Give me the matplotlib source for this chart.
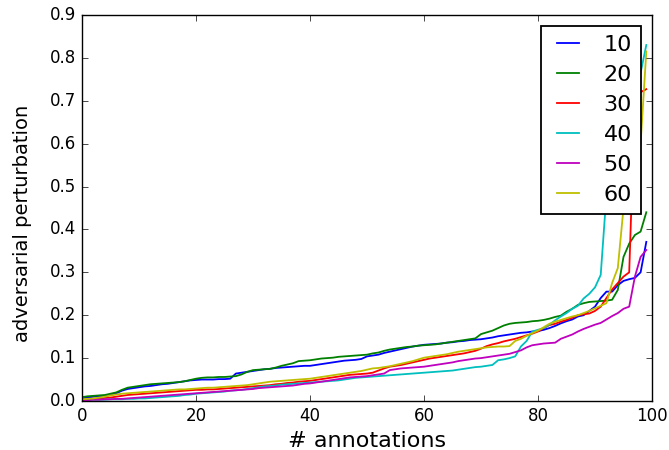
import numpy as np
import matplotlib
matplotlib.use('Agg')
import matplotlib.pyplot as plt

# valores (perturbacion ordenada por anotacion)
etiquetas = ['10', '20', '30', '40', '50', '60']
colores = ['b', 'g', 'r', 'c', 'm', 'y']

s10 = [0.006, 0.008, 0.010, 0.011, 0.012, 0.014, 0.018, 0.024, 0.028, 0.030,
       0.032, 0.034, 0.035, 0.037, 0.039, 0.040, 0.042, 0.044, 0.046, 0.048,
       0.049, 0.050, 0.050, 0.050, 0.051, 0.051, 0.052, 0.064, 0.066, 0.068,
       0.070, 0.072, 0.074, 0.075, 0.077, 0.078, 0.079, 0.080, 0.081, 0.082,
       0.082, 0.084, 0.086, 0.088, 0.090, 0.092, 0.094, 0.095, 0.096, 0.098,
       0.104, 0.106, 0.108, 0.112, 0.115, 0.118, 0.121, 0.124, 0.127, 0.129,
       0.131, 0.132, 0.133, 0.134, 0.136, 0.137, 0.139, 0.140, 0.142, 0.143,
       0.144, 0.146, 0.148, 0.151, 0.153, 0.155, 0.157, 0.159, 0.160, 0.162,
       0.163, 0.166, 0.170, 0.175, 0.181, 0.186, 0.190, 0.197, 0.200, 0.210,
       0.220, 0.240, 0.255, 0.255, 0.270, 0.280, 0.284, 0.287, 0.300, 0.371]

s20 = [0.009, 0.011, 0.012, 0.013, 0.014, 0.017, 0.020, 0.026, 0.031, 0.033,
       0.035, 0.037, 0.039, 0.040, 0.041, 0.042, 0.043, 0.044, 0.046, 0.049,
       0.052, 0.054, 0.055, 0.055, 0.056, 0.056, 0.057, 0.058, 0.062, 0.068,
       0.072, 0.073, 0.074, 0.075, 0.078, 0.082, 0.085, 0.088, 0.093, 0.094,
       0.095, 0.097, 0.099, 0.100, 0.101, 0.103, 0.104, 0.105, 0.106, 0.107,
       0.108, 0.111, 0.113, 0.117, 0.120, 0.122, 0.124, 0.126, 0.127, 0.129,
       0.130, 0.131, 0.132, 0.134, 0.136, 0.138, 0.140, 0.142, 0.144, 0.146,
       0.156, 0.160, 0.164, 0.170, 0.176, 0.180, 0.182, 0.183, 0.184, 0.186,
       0.187, 0.189, 0.192, 0.196, 0.199, 0.208, 0.215, 0.224, 0.228, 0.231,
       0.232, 0.233, 0.234, 0.236, 0.259, 0.336, 0.367, 0.387, 0.395, 0.440]

s30 = [0.003, 0.004, 0.005, 0.006, 0.007, 0.008, 0.010, 0.012, 0.014, 0.015,
       0.016, 0.017, 0.018, 0.019, 0.020, 0.021, 0.022, 0.023, 0.024, 0.025,
       0.026, 0.026, 0.027, 0.027, 0.028, 0.029, 0.030, 0.031, 0.032, 0.033,
       0.034, 0.035, 0.036, 0.037, 0.039, 0.040, 0.042, 0.043, 0.045, 0.046,
       0.047, 0.049, 0.051, 0.053, 0.055, 0.057, 0.059, 0.061, 0.062, 0.063,
       0.064, 0.066, 0.071, 0.076, 0.080, 0.082, 0.084, 0.087, 0.090, 0.093,
       0.096, 0.099, 0.101, 0.103, 0.105, 0.107, 0.109, 0.111, 0.114, 0.117,
       0.122, 0.128, 0.132, 0.135, 0.139, 0.142, 0.145, 0.149, 0.153, 0.157,
       0.162, 0.170, 0.177, 0.180, 0.185, 0.189, 0.194, 0.200, 0.202, 0.204,
       0.210, 0.220, 0.240, 0.260, 0.275, 0.290, 0.300, 0.705, 0.720, 0.727]

s40 = [0.002, 0.002, 0.003, 0.003, 0.003, 0.004, 0.004, 0.004, 0.005, 0.005,
       0.006, 0.006, 0.007, 0.008, 0.009, 0.010, 0.011, 0.012, 0.014, 0.015,
       0.017, 0.018, 0.019, 0.020, 0.021, 0.022, 0.024, 0.025, 0.026, 0.028,
       0.030, 0.032, 0.034, 0.035, 0.036, 0.038, 0.039, 0.040, 0.041, 0.042,
       0.043, 0.044, 0.045, 0.046, 0.047, 0.048, 0.050, 0.052, 0.054, 0.055,
       0.056, 0.057, 0.058, 0.059, 0.060, 0.061, 0.062, 0.063, 0.064, 0.065,
       0.066, 0.067, 0.068, 0.069, 0.070, 0.071, 0.073, 0.075, 0.077, 0.079,
       0.080, 0.082, 0.084, 0.095, 0.097, 0.100, 0.104, 0.127, 0.140, 0.162,
       0.166, 0.170, 0.178, 0.188, 0.197, 0.205, 0.215, 0.222, 0.239, 0.250,
       0.265, 0.294, 0.480, 0.560, 0.620, 0.660, 0.690, 0.720, 0.765, 0.830]

s50 = [0.002, 0.002, 0.003, 0.003, 0.004, 0.004, 0.005, 0.005, 0.006, 0.007,
       0.008, 0.009, 0.010, 0.011, 0.012, 0.013, 0.014, 0.015, 0.016, 0.017,
       0.018, 0.019, 0.020, 0.021, 0.022, 0.023, 0.024, 0.025, 0.026, 0.027,
       0.028, 0.030, 0.031, 0.032, 0.033, 0.034, 0.035, 0.036, 0.038, 0.040,
       0.041, 0.043, 0.045, 0.047, 0.049, 0.051, 0.053, 0.055, 0.056, 0.057,
       0.058, 0.060, 0.062, 0.064, 0.072, 0.074, 0.076, 0.077, 0.078, 0.079,
       0.080, 0.082, 0.084, 0.086, 0.088, 0.090, 0.093, 0.095, 0.097, 0.099,
       0.100, 0.102, 0.104, 0.106, 0.108, 0.110, 0.114, 0.118, 0.125, 0.130,
       0.132, 0.134, 0.135, 0.136, 0.145, 0.150, 0.155, 0.162, 0.168, 0.173,
       0.178, 0.182, 0.190, 0.198, 0.205, 0.215, 0.220, 0.290, 0.336, 0.352]

s60 = [0.004, 0.005, 0.006, 0.008, 0.010, 0.013, 0.015, 0.017, 0.018, 0.019,
       0.020, 0.021, 0.022, 0.023, 0.024, 0.025, 0.026, 0.027, 0.027, 0.028,
       0.029, 0.030, 0.031, 0.031, 0.032, 0.033, 0.034, 0.035, 0.036, 0.037,
       0.039, 0.041, 0.043, 0.045, 0.046, 0.047, 0.048, 0.049, 0.050, 0.051,
       0.052, 0.054, 0.056, 0.058, 0.060, 0.062, 0.064, 0.066, 0.068, 0.070,
       0.073, 0.076, 0.077, 0.079, 0.081, 0.084, 0.087, 0.090, 0.093, 0.097,
       0.101, 0.103, 0.105, 0.107, 0.109, 0.112, 0.115, 0.117, 0.119, 0.121,
       0.123, 0.125, 0.126, 0.127, 0.127, 0.128, 0.140, 0.145, 0.152, 0.158,
       0.164, 0.172, 0.180, 0.185, 0.189, 0.193, 0.197, 0.200, 0.205, 0.210,
       0.216, 0.222, 0.228, 0.275, 0.310, 0.450, 0.500, 0.550, 0.600, 0.815]

series = [s10, s20, s30, s40, s50, s60]

plt.style.use('classic')
plt.rcParams['savefig.facecolor'] = 'white'
plt.rcParams['figure.facecolor'] = 'white'

fig = plt.figure(figsize=(6.69, 4.5), dpi=100)
ax = fig.add_axes([0.1226, 0.1089, 0.852, 0.8578])

for vals, lab, col in zip(series, etiquetas, colores):
    ax.plot(np.arange(len(vals)), vals, color=col, label=lab, linewidth=1.3)

ax.set_xlim(0, 100)
ax.set_ylim(0, 0.9)
ax.set_xticks(range(0, 101, 20))
ax.set_yticks(np.arange(0, 0.91, 0.1))
ax.tick_params(labelsize=12)

ax.set_xlabel('# annotations', fontsize=16)
ax.set_ylabel('adversarial perturbation', fontsize=14)
ax.yaxis.set_label_coords(-0.088, 0.461)

leg = ax.legend(loc='upper right', fontsize=16, handlelength=1.6, labelspacing=0.45)
leg.get_frame().set_linewidth(1.3)

plt.savefig('out.png', dpi=100)
